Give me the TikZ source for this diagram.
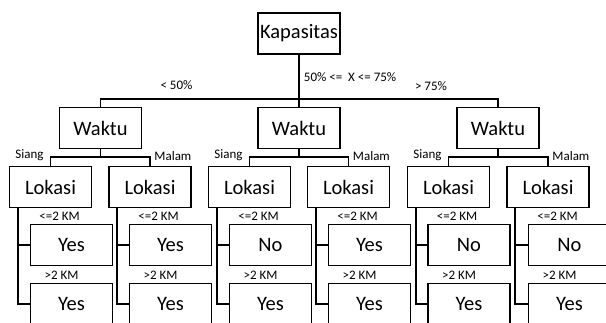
\documentclass[tikz,border=0pt]{standalone}
\usepackage{fontspec}
\setmainfont{Carlito}
\usetikzlibrary{calc}
\begin{document}
\begin{tikzpicture}[x=1pt,y=-1pt,line width=1.9pt,
  box/.style={draw,rectangle,minimum width=82pt,minimum height=41pt,inner sep=0pt,
    font=\fontsize{20.5}{24}\selectfont},
  lbl/.style={font=\fontsize{13}{15}\selectfont,inner sep=0pt}]
\useasboundingbox (0,0) rectangle (606,323);
\clip (0,0) rectangle (606,323);
% root
\node[box] (K) at (299,33.5) {Kapasitas};
% Waktu
\node[box] (W1) at (100.5,128) {Waktu};
\node[box] (W2) at (299,128) {Waktu};
\node[box] (W3) at (498,128) {Waktu};
\coordinate (kj) at (299,99);
\draw (K.south) -- (W2.north);
\draw (W1.north) |- (kj) -| (W3.north);
\node[lbl,anchor=base] (t1) at (176.5,90) {< 50\%};
\node[lbl,anchor=base west] (t2) at (303,81.5) {50\% <= \ X <= 75\%};
\node[lbl,anchor=base] (t3) at (431,91) {> 75\%};
% Lokasi
\foreach \i/\x in {1/50.5,2/150,3/249.5,4/348.5,5/448.5,6/548}{
  \node[box] (L\i) at (\x,187) {Lokasi};
}
\foreach \w/\a/\b in {1/1/2,2/3/4,3/5/6}{
  \draw (W\w.south) -- ++(0,8) coordinate (j\w);
  \draw (L\a.north) |- (j\w) -| (L\b.north);
  \node[lbl,anchor=base east] (s\w) at ($(L\a.north)+(-6,-7)$) {Siang};
  \node[lbl,anchor=base west] (m\w) at ($(L\b.north)+(3.5,-5.5)$) {Malam};
}
% leaves
\foreach \i/\x/\ta/\tb in {1/71.5/Yes/Yes,2/170.5/Yes/Yes,3/270.5/No/Yes,4/369.5/Yes/Yes,5/469/No/Yes,6/569.5/No/Yes}{
  \node[box] (A\i) at (\x,245) {\ta};
  \node[box] (B\i) at (\x,304) {\tb};
  \draw ([xshift=9pt]L\i.south west) |- (B\i.west);
  \draw ([xshift=9pt]L\i.south west |- A\i.west) -- (A\i.west);
  \node[lbl,anchor=base] (la\i) at ($(A\i.north west)+(30,-3.5)$) {<=2 KM};
  \node[lbl,anchor=base] (lb\i) at ($(B\i.north west)+(32,-3.5)$) {>2 KM};
}
\end{tikzpicture}
\end{document}
